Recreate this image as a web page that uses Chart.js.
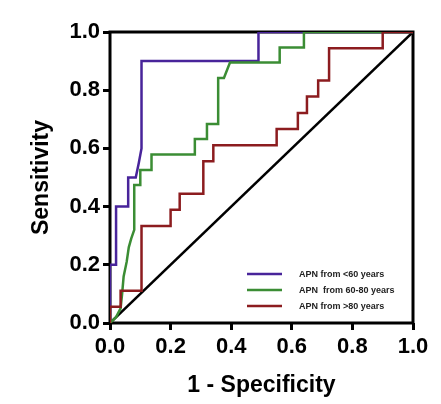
<!DOCTYPE html>
<html>
<head>
<meta charset="utf-8">
<script src="https://cdn.jsdelivr.net/npm/chart.js@4.4.0/dist/chart.umd.min.js"></script>
<style>
  html, body { margin: 0; padding: 0; background: #fff; }
  #wrap { width: 441px; height: 404px; }
</style>
</head>
<body>
<div id="wrap"><canvas id="roc" width="441" height="404"></canvas></div>
<script>
// ROC curves
const under60X = [0, 0, 0.02, 0.02, 0.06, 0.06, 0.085, 0.095, 0.104, 0.104, 0.49, 0.49, 1];
const under60Y = [0, 0.2, 0.2, 0.4, 0.4, 0.5, 0.5, 0.55, 0.6, 0.9, 0.9, 1, 1];

const mid60to80X = [0, 0.02, 0.035, 0.04, 0.045, 0.055, 0.062, 0.07, 0.08, 0.08, 0.1, 0.1, 0.137, 0.137,
  0.28, 0.28, 0.32, 0.32, 0.357, 0.357, 0.376, 0.396, 0.56, 0.56, 0.64, 0.64, 1];
const mid60to80Y = [0, 0.02, 0.05, 0.1, 0.16, 0.21, 0.26, 0.29, 0.32, 0.474, 0.474, 0.526, 0.526, 0.579,
  0.579, 0.632, 0.632, 0.684, 0.684, 0.842, 0.842, 0.895, 0.895, 0.947, 0.947, 1, 1];

const over80X = [0, 0, 0.035, 0.035, 0.104, 0.104, 0.2, 0.2, 0.23, 0.23, 0.308, 0.308, 0.341, 0.341,
  0.55, 0.55, 0.62, 0.62, 0.65, 0.65, 0.687, 0.687, 0.723, 0.723, 0.9, 0.9, 1];
const over80Y = [0, 0.056, 0.056, 0.111, 0.111, 0.333, 0.333, 0.389, 0.389, 0.444, 0.444, 0.556, 0.556, 0.611,
  0.611, 0.667, 0.667, 0.722, 0.722, 0.778, 0.778, 0.833, 0.833, 0.944, 0.944, 1, 1];

const refX = [0, 1];
const refY = [0, 1];

const seriesLabels = ["APN from <60 years", "APN  from 60-80 years", "APN from >80 years"];
const seriesColors = ["#48249a", "#3b8d34", "#8c1c1f"];
const tickValues = [0, 0.2, 0.4, 0.6, 0.8, 1.0];

const FONT = "'Liberation Sans', Arial, Helvetica, sans-serif";

function pts(xs, ys) {
  return xs.map((x, i) => ({ x: x, y: ys[i] }));
}

// box round the plot area
const framePlugin = {
  id: "frame",
  beforeDatasetsDraw(chart) {
    const { ctx, chartArea: a } = chart;
    ctx.save();
    ctx.strokeStyle = "#000";
    ctx.lineWidth = 3;
    ctx.strokeRect(a.left, a.top, a.right - a.left, a.bottom - a.top);
    ctx.restore();
  }
};

// legend inside the lower right corner
const innerLegend = {
  id: "innerLegend",
  afterDraw(chart) {
    const { ctx, chartArea: a } = chart;
    const x0 = a.right - 166;
    const y0 = a.bottom - 49;
    ctx.save();
    ctx.font = "bold 9px " + FONT;
    ctx.textBaseline = "middle";
    chart.data.datasets.forEach((ds, i) => {
      if (!ds.inLegend) return;
      const y = y0 + i * 16;
      ctx.strokeStyle = ds.borderColor;
      ctx.lineWidth = 2.5;
      ctx.beginPath();
      ctx.moveTo(x0, y);
      ctx.lineTo(x0 + 35, y);
      ctx.stroke();
      ctx.fillStyle = "#222";
      ctx.fillText(ds.label, x0 + 52, y + 0.5);
    });
    ctx.restore();
  }
};

const lineStyle = { showLine: true, pointRadius: 0, borderWidth: 2.5, fill: false, tension: 0 };

new Chart(document.getElementById("roc").getContext("2d"), {
  type: "scatter",
  data: {
    datasets: [
      Object.assign({ label: seriesLabels[0], data: pts(under60X, under60Y), borderColor: seriesColors[0], order: 3, inLegend: true }, lineStyle),
      Object.assign({ label: seriesLabels[1], data: pts(mid60to80X, mid60to80Y), borderColor: seriesColors[1], order: 2, inLegend: true }, lineStyle),
      Object.assign({ label: seriesLabels[2], data: pts(over80X, over80Y), borderColor: seriesColors[2], order: 1, inLegend: true }, lineStyle),
      Object.assign({ label: "reference", data: pts(refX, refY), borderColor: "#000", order: 4, inLegend: false }, lineStyle)
    ]
  },
  options: {
    responsive: false,
    animation: false,
    layout: { padding: { top: 32, right: 28, left: 0, bottom: 0 } },
    plugins: { legend: { display: false }, tooltip: { enabled: false } },
    scales: {
      x: {
        type: "linear", min: 0, max: 1,
        afterFit: s => { s.height = 81; },
        afterBuildTicks: s => { s.ticks = tickValues.map(v => ({ value: v })); },
        border: { display: false },
        grid: { drawOnChartArea: false, tickLength: 7, tickWidth: 3, color: "#000" },
        ticks: { color: "#000", padding: 4, font: { family: FONT, size: 22, weight: "bold" }, callback: v => v.toFixed(1) },
        title: { display: true, text: "1 - Specificity", color: "#000", padding: { top: 0, bottom: 5 }, font: { family: FONT, size: 23, weight: "bold" } }
      },
      y: {
        type: "linear", min: 0, max: 1,
        afterFit: s => { s.width = 110; },
        afterBuildTicks: s => { s.ticks = tickValues.map(v => ({ value: v })); },
        border: { display: false },
        grid: { drawOnChartArea: false, tickLength: 7, tickWidth: 3, color: "#000" },
        ticks: { color: "#000", padding: 3, font: { family: FONT, size: 22, weight: "bold" }, callback: v => v.toFixed(1) },
        title: { display: true, text: "Sensitivity", color: "#000", padding: { top: 28, bottom: 0 }, font: { family: FONT, size: 23, weight: "bold" } }
      }
    }
  },
  plugins: [framePlugin, innerLegend]
});
</script>
</body>
</html>
